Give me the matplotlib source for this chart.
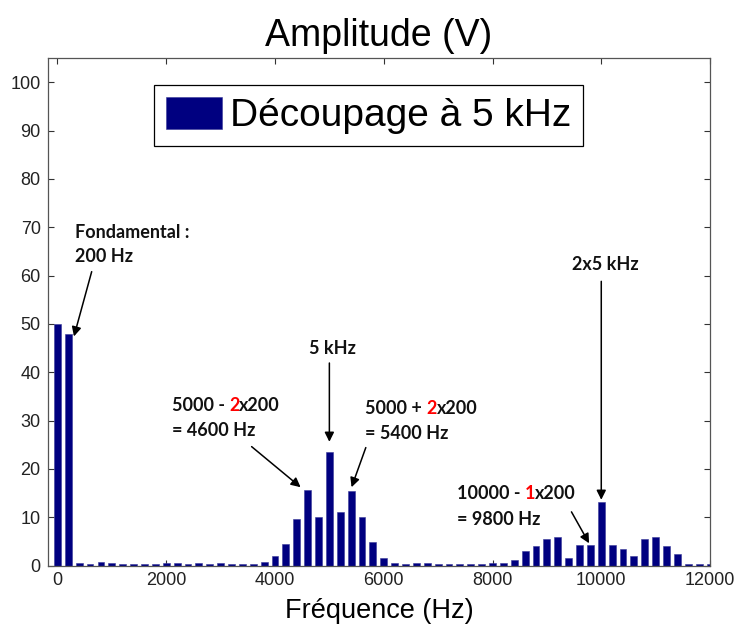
import matplotlib
matplotlib.use("Agg")
import matplotlib.pyplot as plt

# ---- data ----
freqs = list(range(0, 12001, 200))
amplitudes = [
    50.0, 48.0, 0.5, 0.3, 0.8, 0.5, 0.4, 0.3, 0.3, 0.35,   # 0 .. 1800
    0.5, 0.5, 0.3, 0.5, 0.3, 0.5, 0.3, 0.3, 0.3, 0.8,      # 2000 .. 3800
    2.0, 4.5, 9.7, 15.7, 10.0, 23.5, 11.0, 15.5, 10.0, 4.8,  # 4000 .. 5800
    1.5, 0.5, 0.3, 0.5, 0.5, 0.3, 0.3, 0.3, 0.3, 0.3,      # 6000 .. 7800
    0.5, 0.5, 1.1, 2.9, 4.0, 5.5, 5.8, 1.6, 4.3, 4.3,      # 8000 .. 9800
    13.1, 4.3, 3.4, 1.9, 5.4, 6.0, 4.0, 2.3, 0.4, 0.3,     # 10000 .. 11800
    0.3,                                                   # 12000
]
series_label = "Découpage à 5 kHz"
title = "Amplitude (V)"
xlabel = "Fréquence (Hz)"
xticks = [0, 2000, 4000, 6000, 8000, 10000, 12000]
yticks = list(range(0, 101, 10))

NAVY = "#000080"
SANS = ["Liberation Sans", "DejaVu Sans"]
ANN = ["Lato", "DejaVu Sans"]

fig = plt.figure(figsize=(7.37, 6.28), dpi=100)
ax = fig.add_axes([0.0647, 0.0995, 0.8987, 0.8081])

ax.bar(freqs, amplitudes, width=125, color=NAVY, edgecolor="#3a3a99",
       linewidth=0.4, label=series_label, zorder=2)

ax.set_xlim(-180, 12000)
ax.set_ylim(0, 105)
ax.set_xticks(xticks)
ax.set_yticks(yticks)
ax.set_xticklabels([str(t) for t in xticks], fontfamily=SANS, fontsize=13)
ax.set_yticklabels([str(t) for t in yticks], fontfamily=SANS, fontsize=13)
ax.tick_params(direction="in", length=4, width=0.8, top=True, right=True,
               color="#333333", labelcolor="#222222", pad=5)
for s in ax.spines.values():
    s.set_color("#555555")
    s.set_linewidth(0.9)

ax.set_title(title, fontfamily=SANS, fontsize=27, pad=9)
ax.set_xlabel(xlabel, fontfamily=SANS, fontsize=19.5, labelpad=6)

leg = ax.legend(loc="upper center", bbox_to_anchor=(0.484, 0.947),
                borderaxespad=0, fancybox=False, framealpha=1,
                edgecolor="black", prop={"family": SANS, "size": 28},
                handlelength=1.45, handleheight=0.9, handletextpad=0.2,
                borderpad=0.3)
leg.get_frame().set_linewidth(0.9)

# ---- annotations ----
fs = 13
kw = dict(fontfamily=ANN, fontweight="bold", fontsize=fs, color="#111111")
arrow = dict(arrowstyle="-|>", color="black", lw=1.1, mutation_scale=14,
             shrinkA=0, shrinkB=0)


def colored_line(x, y, parts):
    prev = ax.text(x, y, parts[0][0], ha="left", va="center",
                   **{**kw, "color": parts[0][1]})
    for txt, col in parts[1:]:
        prev = ax.annotate(txt, xy=(1, 0), xycoords=prev, ha="left",
                           va="bottom", **{**kw, "color": col})
    return prev


# Fondamental
ax.text(322, 69.0, "Fondamental :", ha="left", va="center", **kw)
ax.text(322, 63.9, "200 Hz", ha="left", va="center", **kw)
ax.annotate("", xy=(303, 47.4), xytext=(629, 60.8), arrowprops=arrow)

# 5 kHz
ax.text(5050, 45.0, "5 kHz", ha="center", va="center", **kw)
ax.annotate("", xy=(5000, 25.6), xytext=(5000, 41.9), arrowprops=arrow)

# 4600 Hz
colored_line(2099, 33.2, [("5000 - ", "#111111"), ("2", "red"), ("x200", "#111111")])
ax.text(2099, 27.9, "= 4600 Hz", ha="left", va="center", **kw)
ax.annotate("", xy=(4471, 16.2), xytext=(3570, 24.6), arrowprops=arrow)

# 5400 Hz
colored_line(5653, 32.5, [("5000 + ", "#111111"), ("2", "red"), ("x200", "#111111")])
ax.text(5653, 27.4, "= 5400 Hz", ha="left", va="center", **kw)
ax.annotate("", xy=(5408, 16.2), xytext=(5670, 24.4), arrowprops=arrow)

# 2x5 kHz
ax.text(10083, 62.2, "2x5 kHz", ha="center", va="center", **kw)
ax.annotate("", xy=(10000, 13.6), xytext=(10000, 58.8), arrowprops=arrow)

# 9800 Hz
colored_line(7338, 14.8, [("10000 - ", "#111111"), ("1", "red"), ("x200", "#111111")])
ax.text(7338, 9.6, "= 9800 Hz", ha="left", va="center", **kw)
ax.annotate("", xy=(9776, 4.6), xytext=(9452, 11.1), arrowprops=arrow)

fig.savefig("out.png", dpi=100)
